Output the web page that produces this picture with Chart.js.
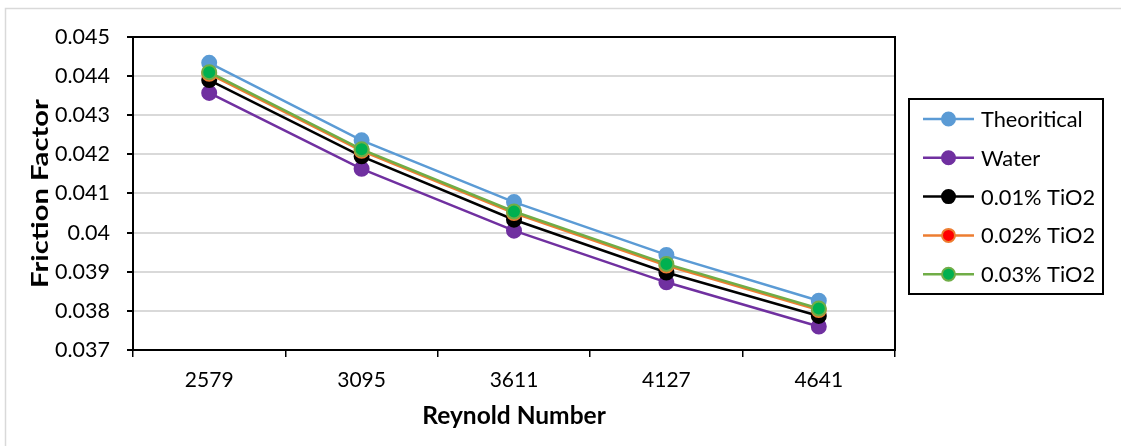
<!DOCTYPE html>
<html>
<head>
<meta charset="utf-8">
<script src="https://cdn.jsdelivr.net/npm/chart.js@4.4.1/dist/chart.umd.min.js"></script>
<style>
  html, body { margin: 0; padding: 0; background: #fff; }
  #wrap { width: 1121px; height: 446px; }
</style>
</head>
<body>
<div id="wrap"><canvas id="chart" width="1121" height="446"></canvas></div>
<script>
// categories (Reynold number)
const reynolds = ['2579', '3095', '3611', '4127', '4641'];

// friction factor series
const theoretical = [0.04434, 0.04236, 0.04078, 0.03943, 0.03826];
const water       = [0.04357, 0.04163, 0.04005, 0.03873, 0.03760];
const tio2_001    = [0.04390, 0.04195, 0.04033, 0.03898, 0.03787];
const tio2_002    = [0.04406, 0.04209, 0.04050, 0.03916, 0.03802];
const tio2_003    = [0.04410, 0.04213, 0.04054, 0.03920, 0.03806];

const seriesNames = ['Theoritical', 'Water', '0.01% TiO2', '0.02% TiO2', '0.03% TiO2'];
const yTickLabels = ['0.037', '0.038', '0.039', '0.04', '0.041', '0.042', '0.043', '0.044', '0.045'];
const yTitle = 'Friction Factor';
const xTitle = 'Reynold Number';

const FONT = 'Lato, "Open Sans", sans-serif';
const PLOT = { left: 133, right: 895, top: 37, bottom: 350 };

function series(label, data, line, fill, order) {
  return {
    label: label,
    data: data,
    borderColor: line,
    backgroundColor: fill,
    pointBackgroundColor: fill,
    pointBorderColor: line,
    pointBorderWidth: 2,
    pointRadius: 7,
    pointHoverRadius: 7,
    borderWidth: 2.5,
    tension: 0,
    order: order
  };
}

const datasets = [
  series(seriesNames[0], theoretical, '#5B9BD5', '#5B9BD5', 4),
  series(seriesNames[1], water, '#7030A0', '#7030A0', 3),
  series(seriesNames[2], tio2_001, '#000000', '#000000', 2),
  series(seriesNames[3], tio2_002, '#ED7D31', '#FF0000', 1),
  series(seriesNames[4], tio2_003, '#70AD47', '#00B050', 0)
];

// outer frame + plot border + vertical title (stretched a bit, like the original)
const framePlugin = {
  id: 'frame',
  beforeDraw(chart) {
    const ctx = chart.ctx;
    ctx.save();
    ctx.fillStyle = '#fff';
    ctx.fillRect(0, 0, chart.width, chart.height);
    ctx.strokeStyle = '#d9d9d9';
    ctx.lineWidth = 1.5;
    ctx.beginPath();
    ctx.moveTo(5.5, chart.height);
    ctx.lineTo(5.5, 8.5);
    ctx.lineTo(chart.width, 8.5);
    ctx.stroke();
    ctx.restore();
  },
  beforeDatasetsDraw(chart) {
    const { ctx, chartArea: a } = chart;
    ctx.save();
    ctx.strokeStyle = '#000';
    ctx.lineWidth = 2;
    ctx.strokeRect(a.left, a.top, a.right - a.left, a.bottom - a.top);
    ctx.restore();
  },
  afterDraw(chart) {
    const { ctx, chartArea: a } = chart;
    ctx.save();
    ctx.translate(48, (a.top + a.bottom) / 2);
    ctx.rotate(-Math.PI / 2);
    ctx.scale(1.27, 1);
    ctx.font = 'bold 23px ' + FONT;
    ctx.fillStyle = '#000';
    ctx.textAlign = 'center';
    ctx.textBaseline = 'alphabetic';
    ctx.fillText(yTitle, 0, 0);
    ctx.restore();
  }
};

// legend in a box on the right, like the spreadsheet one
const legendPlugin = {
  id: 'boxLegend',
  afterDraw(chart) {
    const ctx = chart.ctx;
    const box = { x: 909, y: 99, w: 194, h: 195 };
    ctx.save();
    ctx.strokeStyle = '#000';
    ctx.lineWidth = 2;
    ctx.strokeRect(box.x, box.y, box.w, box.h);
    ctx.font = '21.8px ' + FONT;
    ctx.textBaseline = 'middle';
    ctx.fillStyle = '#000';
    chart.data.datasets.forEach((ds, i) => {
      const y = 119 + i * 38.8;
      ctx.strokeStyle = ds.borderColor;
      ctx.lineWidth = 2.5;
      ctx.beginPath();
      ctx.moveTo(923, y);
      ctx.lineTo(974, y);
      ctx.stroke();
      ctx.beginPath();
      ctx.arc(948.5, y, 6.5, 0, Math.PI * 2);
      ctx.fillStyle = ds.pointBackgroundColor;
      ctx.fill();
      ctx.lineWidth = 2;
      ctx.strokeStyle = ds.pointBorderColor;
      ctx.stroke();
      ctx.fillStyle = '#000';
      ctx.fillText(ds.label, 981, y + 1);
    });
    ctx.restore();
  }
};

new Chart(document.getElementById('chart'), {
  type: 'line',
  data: { labels: reynolds, datasets: datasets },
  options: {
    responsive: false,
    animation: false,
    devicePixelRatio: 1,
    layout: { padding: { left: 22, top: PLOT.top, right: 1121 - PLOT.right, bottom: 11 } },
    plugins: { legend: { display: false }, tooltip: { enabled: false } },
    scales: {
      x: {
        offset: true,
        grid: { offset: true, drawOnChartArea: false, drawTicks: true, tickLength: 7, tickColor: '#000', lineWidth: 1.5 },
        border: { color: '#000', width: 2 },
        ticks: { color: '#000', font: { family: FONT, size: 21 }, padding: 11, maxRotation: 0 },
        title: { display: true, text: xTitle, color: '#000', font: { family: FONT, size: 24.5, weight: 'bold' } },
        afterFit(scale) { scale.height = 446 - 11 - PLOT.bottom; }
      },
      y: {
        min: 0.037,
        max: 0.045,
        ticks: {
          stepSize: 0.001,
          color: '#000',
          padding: 17,
          font: { family: FONT, size: 21.5 },
          callback: (v, i) => yTickLabels[i]
        },
        grid: { color: '#d9d9d9', lineWidth: 2, tickColor: '#000', tickLength: 6, drawTicks: true },
        border: { color: '#000', width: 2 },
        title: { display: false },
        afterFit(scale) { scale.width = PLOT.left - 22; }
      }
    }
  },
  plugins: [framePlugin, legendPlugin]
});
</script>
</body>
</html>
